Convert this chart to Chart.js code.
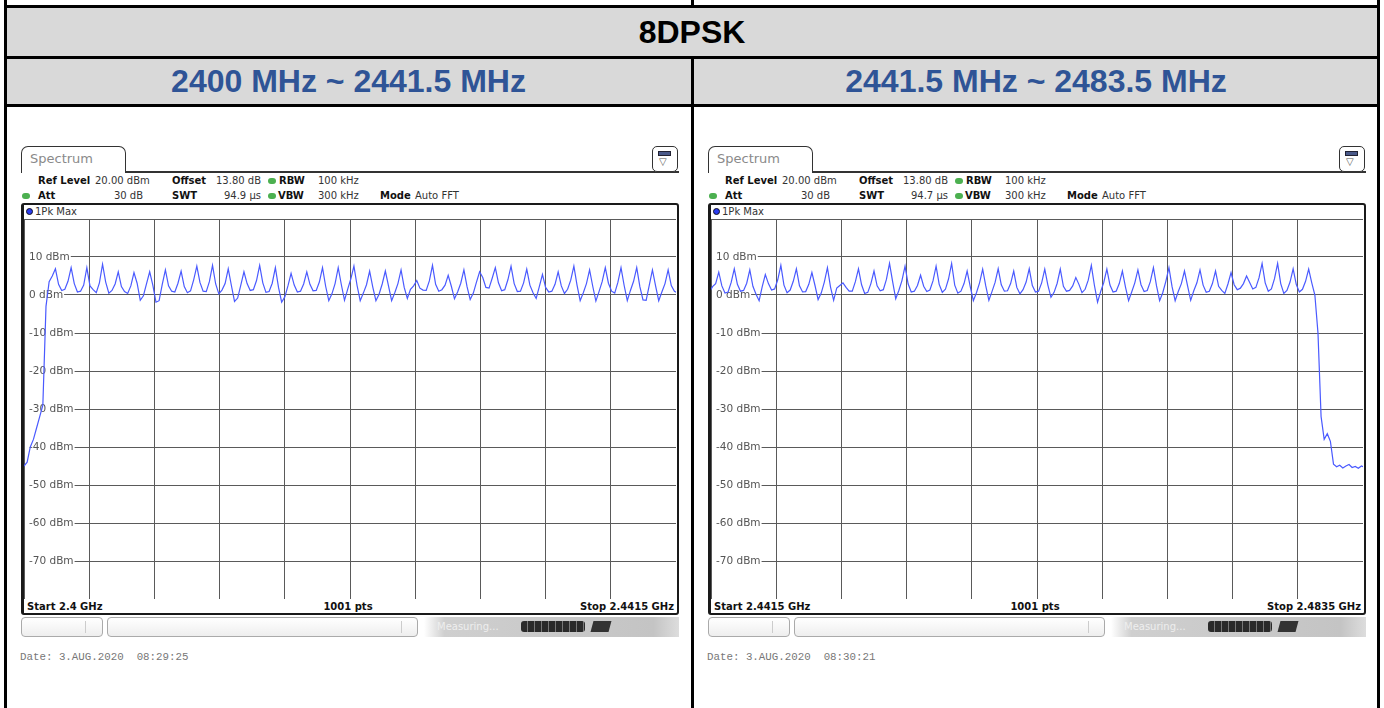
<!DOCTYPE html>
<html>
<head>
<meta charset="utf-8">
<script src="https://cdn.jsdelivr.net/npm/chart.js@4.4.1/dist/chart.umd.min.js"></script>
<style>
body { margin: 0; width: 1384px; height: 708px; position: relative; overflow: hidden; background: #fff; font-family: "DejaVu Sans", sans-serif; }
.gray { position: absolute; background: #d9d9d9; }
.hl { position: absolute; background: #000; height: 3px; }
.vl { position: absolute; background: #000; width: 3px; }
.head { position: absolute; font-family: "Liberation Sans", Arial, sans-serif; font-weight: bold; font-size: 32px; line-height: 30px; text-align: center; }
.t { position: absolute; font-size: 10px; line-height: 12px; white-space: pre; color: #333; }
.b { font-weight: bold; color: #111; }
.tab { position: absolute; box-sizing: border-box; border: 1.5px solid #333; border-bottom: none; border-radius: 7px 7px 0 0; background: #fff; }
.box { position: absolute; box-sizing: border-box; }
.dot { position: absolute; width: 8px; height: 6px; border-radius: 4px; background: #4cb050; }
.plot { position: absolute; width: 652px; height: 380px; }
</style>
</head>
<body>
<div class="gray" style="left:6px;top:8px;width:1372px;height:48px"></div>
<div class="gray" style="left:6px;top:59px;width:685px;height:45px"></div>
<div class="gray" style="left:694px;top:59px;width:684px;height:45px"></div>
<div class="hl" style="left:4px;top:5px;width:1376px"></div>
<div class="hl" style="left:4px;top:56px;width:1376px"></div>
<div class="hl" style="left:4px;top:104px;width:1376px"></div>
<div class="vl" style="left:4px;top:0;height:708px"></div>
<div class="vl" style="left:1377px;top:0;height:708px"></div>
<div class="vl" style="left:691px;top:0;height:6px"></div>
<div class="vl" style="left:691px;top:56px;height:652px"></div>
<div class="head" style="left:6px;top:17px;width:1372px;color:#000">8DPSK</div>
<div class="head" style="left:6px;top:66px;width:685px;color:#2f5496">2400 MHz ~ 2441.5 MHz</div>
<div class="head" style="left:694px;top:66px;width:684px;color:#2f5496">2441.5 MHz ~ 2483.5 MHz</div>
<div id="panels"></div>

<script>
// sweep sampling (MHz)
const sampleStep = 0.2;
const leftStart = 2400, leftStop = 2441.5, leftFirst = 2400.0;
const rightStart = 2441.5, rightStop = 2483.5, rightFirst = 2441.4;

// y axis (dBm)
const yMin = -80, yMax = 20, yStep = 10;
const yTickLabels = [10, 0, -10, -20, -30, -40, -50, -60, -70];
const xDivisions = 10;

// 1Pk Max trace, 2400 .. 2441.6 MHz
const leftLevels = [
  -45, -44, -40, -38, -35, -32, -29, -3,
  3.5, 5.0, 6.9, 2.8, 1.2,
  1.5, 3.6, 7.2, 3.0, 0.8,
  1.0, 2.6, 7.2, 2.4, 1.4,
  0.6, 3.2, 8.1, 3.4, 0.5,
  1.2, 2.9, 6.1, 2.2, 0.9,
  0.4, 2.4, 5.9, 3.1, -1.4,
  -0.2, 3.0, 6.1, 2.6, -1.9,
  -1.5, 2.8, 6.6, 2.4, 1.0,
  0.8, 3.1, 6.3, 2.2, 0.6,
  1.1, 4.0, 7.6, 3.3, 1.0,
  0.9, 3.5, 7.8, 2.9, 0.3,
  1.3, 3.0, 6.9, 2.5, -1.7,
  -0.8, 2.6, 6.1, 3.0, 1.2,
  1.4, 3.8, 7.8, 3.2, 0.7,
  0.9, 3.1, 7.2, 2.0, -1.9,
  -0.5, 2.4, 5.7, 2.6, 0.8,
  1.0, 2.9, 6.1, 2.8, 1.1,
  1.2, 3.4, 7.2, 2.3, -1.5,
  0.3, 3.0, 7.2, 2.7, -1.4,
  1.5, 4.2, 7.6, 2.5, -1.5,
  0.5, 2.7, 6.3, 2.1, -1.5,
  0.2, 2.9, 6.3, 2.4, -1.5,
  0.6, 3.0, 6.6, 2.0, -0.9,
  1.5, 2.4, 3.8, 1.8, 1.3,
  1.2, 3.7, 7.8, 2.8, 1.0,
  1.4, 2.6, 5.2, 2.3, -1.0,
  0.8, 3.1, 6.6, 2.2, -1.2,
  0.5, 3.4, 6.1, 4.6, 2.0,
  1.8, 4.4, 7.2, 3.2, 1.1,
  1.4, 4.0, 7.6, 3.0, 0.9,
  1.0, 3.2, 6.8, 2.6, 0.6,
  -0.9, 2.2, 5.4, 2.0, 0.8,
  1.0, 2.8, 6.1, 2.4, 0.4,
  1.5, 3.9, 7.6, 2.6, -1.5,
  0.6, 3.0, 6.6, 2.3, -1.6,
  0.9, 3.5, 7.2, 3.1, 1.0,
  0.5, 3.3, 7.2, 2.5, -1.5,
  1.2, 3.6, 7.2, 2.2, -1.3,
  -1.4, 2.6, 6.6, 2.4, -1.5,
  0.8, 3.0, 6.6, 2.5, 1.0,
  0.5
];

// 1Pk Max trace, 2441.4 .. 2483.6 MHz
const rightLevels = [
  0.8,
  2.2, 3.0, 6.0, 2.4, 0.5,
  0.8, 3.3, 6.9, 2.8, 1.0,
  1.2, 3.1, 6.6, 2.3, 0.2,
  -1.5, 2.2, 5.4, 3.0, 1.3,
  1.6, 4.0, 7.8, 2.6, 0.6,
  1.3, 3.6, 6.9, 2.4, 0.8,
  0.9, 2.8, 5.9, 2.5, -1.2,
  0.5, 3.4, 7.2, 2.1, -1.4,
  1.8, 2.5, 3.2, 2.0, 1.0,
  1.0, 3.5, 6.9, 2.7, 0.4,
  0.7, 3.0, 6.3, 2.4, 1.1,
  1.4, 4.1, 8.3, 3.5, -1.0,
  1.2, 3.8, 7.6, 2.9, 0.8,
  1.0, 2.5, 5.2, 2.3, 0.9,
  1.3, 3.7, 7.6, 2.8, 0.7,
  1.5, 4.2, 8.3, 2.6, 0.5,
  1.0, 3.0, 6.3, 2.2, -1.5,
  0.6, 3.2, 6.8, 2.4, -1.4,
  0.9, 3.3, 6.9, 2.7, 1.0,
  1.1, 3.0, 6.3, 2.0, 0.3,
  1.4, 3.4, 6.9, 2.5, 0.8,
  1.0, 3.2, 6.8, 2.6, -0.6,
  0.7, 3.1, 6.8, 2.3, 1.0,
  1.2, 2.4, 4.6, 2.8, 0.6,
  1.5, 3.9, 7.8, 2.5, -1.9,
  0.9, 3.3, 6.8, 2.6, 0.8,
  1.0, 3.0, 6.3, 2.1, -1.5,
  0.8, 3.2, 6.6, 2.7, 0.9,
  1.2, 3.5, 7.2, 2.4, -1.5,
  0.6, 3.6, 7.2, 2.2, -1.5,
  0.9, 3.0, 6.3, 2.4, -1.4,
  1.1, 3.2, 6.6, 2.6, 0.7,
  1.0, 3.0, 6.3, 2.3, 1.2,
  0.4, 2.9, 5.9, 2.7, 1.4,
  1.8, 3.0, 5.0, 3.3, 1.6,
  2.0, 4.5, 8.3, 3.2, 1.0,
  1.6, 4.3, 8.3, 3.0, 0.4,
  1.2, 3.4, 6.9, 2.8, 0.8,
  1.5, 3.6, 6.8, 3.2, 0.0,
  -10, -32, -38, -36.5, -38.5, -44.5, -45.2, -44.8,
  -45.5, -45.0, -44.6, -45.4, -45.1, -45.6, -45.0, -45.3
];

const panels = [
  { off: 0, id: 'cLeft', swt: '94.9 µs', start: 'Start 2.4 GHz', stop: 'Stop 2.4415 GHz', date: 'Date: 3.AUG.2020  08:29:25' },
  { off: 687, id: 'cRight', swt: '94.7 µs', start: 'Start 2.4415 GHz', stop: 'Stop 2.4835 GHz', date: 'Date: 3.AUG.2020  08:30:21' }
];

const txt = (x, y, s, cls = '', align = 'l', extra = '') => {
  const tr = align === 'r' ? 'transform:translateX(-100%);' : align === 'c' ? 'transform:translateX(-50%);' : '';
  return `<div class="t ${cls}" style="left:${x}px;top:${y - 6}px;${tr}${extra}">${s}</div>`;
};

const buildPanel = (p) => {
  const o = p.off;
  return `
  <div class="tab" style="left:${21 + o}px;top:146px;width:105px;height:27px"></div>
  <div class="box" style="left:${125 + o}px;top:171px;width:${554}px;height:1.5px;background:#333"></div>
  <div class="t" style="left:${30 + o}px;top:152px;font-size:13px;line-height:14px;color:#8a8a8a">Spectrum</div>
  <div class="box" style="left:${652 + o}px;top:146px;width:26px;height:26px;border:1.5px solid #333;border-radius:5px;background:#fff">
    <div class="box" style="left:5px;top:4px;width:13px;height:5px;background:#4a5a8a;border:1px solid #223"></div>
    <div class="t" style="left:6px;top:9px;font-size:10px;color:#555">▽</div>
  </div>
  ${txt(38 + o, 181, 'Ref Level', 'b')}${txt(95 + o, 181, '20.00 dBm')}
  ${txt(172 + o, 181, 'Offset', 'b')}${txt(216 + o, 181, '13.80 dB')}
  <div class="dot" style="left:${268 + o}px;top:178px"></div>
  ${txt(279 + o, 181, 'RBW', 'b')}${txt(318 + o, 181, '100 kHz')}
  <div class="dot" style="left:${22 + o}px;top:193px"></div>
  ${txt(38 + o, 196, 'Att', 'b')}${txt(143 + o, 196, '30 dB', '', 'r')}
  ${txt(172 + o, 196, 'SWT', 'b')}${txt(261 + o, 196, p.swt, '', 'r')}
  <div class="dot" style="left:${268 + o}px;top:193px"></div>
  ${txt(278 + o, 196, 'VBW', 'b')}${txt(318 + o, 196, '300 kHz')}
  ${txt(380 + o, 196, 'Mode', 'b')}${txt(415 + o, 196, 'Auto FFT')}
  <div class="box" style="left:${21 + o}px;top:203px;width:658px;height:412px;border:2px solid #1a1a1a;border-left-width:3px;border-radius:3px"></div>
  <div class="box" style="left:${26 + o}px;top:208px;width:7px;height:7px;border-radius:4px;background:#2a3cf0;border:1px solid #112"></div>
  ${txt(35 + o, 211.5, '1Pk Max')}
  <div class="plot" style="left:${24 + o}px;top:219px"><canvas id="${p.id}"></canvas></div>
  ${txt(27 + o, 606.5, p.start, 'b')}${txt(348 + o, 606.5, '1001 pts', 'b', 'c')}${txt(674 + o, 606.5, p.stop, 'b', 'r')}
  <div class="box" style="left:${21 + o}px;top:617px;width:82px;height:20px;border:1px solid #aaa;border-radius:4px;background:linear-gradient(#fff,#eee)">
    <div class="box" style="left:63px;top:3px;width:1px;height:12px;background:#ccc"></div></div>
  <div class="box" style="left:${107 + o}px;top:617px;width:311px;height:20px;border:1px solid #aaa;border-radius:4px;background:linear-gradient(#fff,#eee)">
    <div class="box" style="left:293px;top:3px;width:1px;height:12px;background:#ccc"></div></div>
  <div class="box" style="left:${424 + o}px;top:617px;width:255px;height:20px;background:linear-gradient(to right,#fff,#cfcfcf 8%,#c4c4c4 90%,#ddd)"></div>
  ${txt(437 + o, 626.5, 'Measuring...', '', 'l', 'color:#eee;font-size:10px')}
  <div class="box" style="left:${521 + o}px;top:621px;width:64px;height:11px;border-radius:3px;background:repeating-linear-gradient(to right,#2a2a2a 0 6px,#777 6px 7px)"></div>
  <div class="box" style="left:${592 + o}px;top:621px;width:18px;height:11px;background:#333;transform:skewX(-15deg)"></div>
  ${txt(20 + o, 657, p.date, '', 'l', 'font-family:\'Liberation Mono\',monospace;font-size:10.8px;color:#777')}
  `;
};

document.getElementById('panels').innerHTML = panels.map(buildPanel).join('');

// dBm labels sit inside the plot, gridline starts after the text
const dbmLabels = {
  id: 'dbmLabels',
  beforeDatasetsDraw(chart) {
    const { ctx, chartArea, scales } = chart;
    ctx.save();
    ctx.font = '10.5px "DejaVu Sans"';
    ctx.textBaseline = 'middle';
    yTickLabels.forEach(v => {
      const y = scales.y.getPixelForValue(v);
      const s = `${v} dBm`;
      const w = ctx.measureText(s).width;
      ctx.fillStyle = '#fff';
      ctx.fillRect(chartArea.left + 1, y - 2, w + 5, 4);
      ctx.fillStyle = '#555';
      ctx.fillText(s, chartArea.left + 5, y + 0.5);
    });
    ctx.restore();
  }
};

const gridColor = '#5a5a5a';

const renderSpectrum = (id, startF, stopF, firstF, levels) => new Chart(document.getElementById(id), {
  type: 'line',
  data: {
    datasets: [{
      data: levels.map((v, i) => ({ x: firstF + i * sampleStep, y: v })),
      borderColor: '#4a5aff',
      borderWidth: 1.2,
      pointRadius: 0,
      tension: 0,
    }]
  },
  options: {
    responsive: true,
    maintainAspectRatio: false,
    animation: false,
    layout: { padding: 0 },
    plugins: { legend: { display: false }, tooltip: { enabled: false } },
    scales: {
      x: {
        type: 'linear',
        min: startF,
        max: stopF,
        ticks: { display: false },
        grid: { color: gridColor, drawTicks: false },
        border: { display: false },
        afterBuildTicks: (s) => {
          s.ticks = Array.from({ length: xDivisions + 1 }, (_, i) => ({ value: startF + i * (stopF - startF) / xDivisions }));
        },
      },
      y: {
        min: yMin,
        max: yMax,
        ticks: { display: false, stepSize: yStep },
        grid: { color: gridColor, drawTicks: false },
        border: { display: false },
      }
    }
  },
  plugins: [dbmLabels],
});

renderSpectrum('cLeft', leftStart, leftStop, leftFirst, leftLevels);
renderSpectrum('cRight', rightStart, rightStop, rightFirst, rightLevels);
</script>
</body>
</html>
